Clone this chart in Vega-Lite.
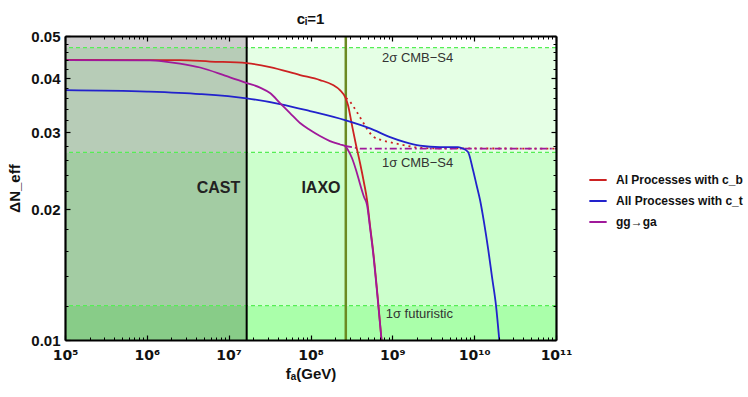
{
  "$schema": "https://vega.github.io/schema/vega-lite/v6.json",
  "autosize": "none",
  "width": 491,
  "height": 304,
  "padding": {"left": 65, "top": 36, "right": 192, "bottom": 57},
  "background": "white",
  "config": {
    "view": {"stroke": null},
    "font": "Liberation Sans"
  },
  "title": {"text": "cᵢ=1", "fontSize": 15, "fontWeight": "bold", "font": "Liberation Sans", "offset": 2, "color": "#111"},
  "datasets": {
    "bands": [
      {"band": "b1", "x1": 1e5, "x2": 1e11, "y1": 0.01, "y2": 0.012},
      {"band": "b2", "x1": 1e5, "x2": 1e11, "y1": 0.012, "y2": 0.027},
      {"band": "b3", "x1": 1e5, "x2": 1e11, "y1": 0.027, "y2": 0.047}
    ],
    "gray": [{"x1": 1e5, "x2": 1.66e7, "y1": 0.01, "y2": 0.05}],
    "hlines": [{"y": 0.047}, {"y": 0.027}, {"y": 0.012}],
    "cast": [{"x": 1.66e7}],
    "iaxo": [{"x": 2.7e8}],
    "curves": [
      {"series": "Al Processes with c_b", "x": 1e5, "y": 0.04404},
      {"series": "Al Processes with c_b", "x": 1.0e6, "y": 0.0440},
      {"series": "Al Processes with c_b", "x": 2.54e6, "y": 0.0440},
      {"series": "Al Processes with c_b", "x": 5.92e6, "y": 0.04368},
      {"series": "Al Processes with c_b", "x": 1.663e7, "y": 0.0433},
      {"series": "Al Processes with c_b", "x": 3.2e7, "y": 0.04243},
      {"series": "Al Processes with c_b", "x": 7.45e7, "y": 0.04067},
      {"series": "Al Processes with c_b", "x": 1.306e8, "y": 0.0396},
      {"series": "Al Processes with c_b", "x": 1.884e8, "y": 0.03857},
      {"series": "Al Processes with c_b", "x": 2.29e8, "y": 0.03756},
      {"series": "Al Processes with c_b", "x": 2.69e8, "y": 0.0360},
      {"series": "Al Processes with c_b", "x": 2.87e8, "y": 0.03469},
      {"series": "Al Processes with c_b", "x": 3.21e8, "y": 0.03121},
      {"series": "Al Processes with c_b", "x": 3.6e8, "y": 0.02808},
      {"series": "Al Processes with c_b", "x": 4.03e8, "y": 0.02552},
      {"series": "Al Processes with c_b", "x": 4.51e8, "y": 0.02296},
      {"series": "Al Processes with c_b", "x": 4.91e8, "y": 0.02098},
      {"series": "Al Processes with c_b", "x": 5.33e8, "y": 0.01838},
      {"series": "Al Processes with c_b", "x": 5.81e8, "y": 0.0161},
      {"series": "Al Processes with c_b", "x": 6.59e8, "y": 0.01269},
      {"series": "Al Processes with c_b", "x": 7.38e8, "y": 0.01},
      {"series": "All Processes with c_t", "x": 1e5, "y": 0.03755},
      {"series": "All Processes with c_t", "x": 1.005e6, "y": 0.03726},
      {"series": "All Processes with c_t", "x": 4.47e6, "y": 0.03677},
      {"series": "All Processes with c_t", "x": 1.66e7, "y": 0.03594},
      {"series": "All Processes with c_t", "x": 4.24e7, "y": 0.03488},
      {"series": "All Processes with c_t", "x": 9.86e7, "y": 0.03361},
      {"series": "All Processes with c_t", "x": 2.64e8, "y": 0.03203},
      {"series": "All Processes with c_t", "x": 5.33e8, "y": 0.03066},
      {"series": "All Processes with c_t", "x": 9.38e8, "y": 0.02928},
      {"series": "All Processes with c_t", "x": 1.429e9, "y": 0.02851},
      {"series": "All Processes with c_t", "x": 2.178e9, "y": 0.02799},
      {"series": "All Processes with c_t", "x": 3.83e9, "y": 0.02777},
      {"series": "All Processes with c_t", "x": 6.35e9, "y": 0.02777},
      {"series": "All Processes with c_t", "x": 7.31e9, "y": 0.02755},
      {"series": "All Processes with c_t", "x": 8.41e9, "y": 0.02705},
      {"series": "All Processes with c_t", "x": 9.68e9, "y": 0.0246},
      {"series": "All Processes with c_t", "x": 1.069e10, "y": 0.02272},
      {"series": "All Processes with c_t", "x": 1.18e10, "y": 0.02098},
      {"series": "All Processes with c_t", "x": 1.318e10, "y": 0.01867},
      {"series": "All Processes with c_t", "x": 1.489e10, "y": 0.0161},
      {"series": "All Processes with c_t", "x": 1.652e10, "y": 0.01396},
      {"series": "All Processes with c_t", "x": 1.849e10, "y": 0.012},
      {"series": "All Processes with c_t", "x": 2.028e10, "y": 0.01},
      {"series": "gg→ga", "x": 1e5, "y": 0.0440},
      {"series": "gg→ga", "x": 1.094e6, "y": 0.04395},
      {"series": "gg→ga", "x": 1.667e6, "y": 0.04368},
      {"series": "gg→ga", "x": 2.54e6, "y": 0.04322},
      {"series": "gg→ga", "x": 4.47e6, "y": 0.04232},
      {"series": "gg→ga", "x": 9.02e6, "y": 0.04056},
      {"series": "gg→ga", "x": 1.663e7, "y": 0.03898},
      {"series": "gg→ga", "x": 2.42e7, "y": 0.03805},
      {"series": "gg→ga", "x": 3.2e7, "y": 0.03696},
      {"series": "gg→ga", "x": 4.24e7, "y": 0.03506},
      {"series": "gg→ga", "x": 5.62e7, "y": 0.03325},
      {"series": "gg→ga", "x": 7.45e7, "y": 0.03154},
      {"series": "gg→ga", "x": 9.87e7, "y": 0.03039},
      {"series": "gg→ga", "x": 1.306e8, "y": 0.02944},
      {"series": "gg→ga", "x": 1.73e8, "y": 0.02867},
      {"series": "gg→ga", "x": 2.3e8, "y": 0.02815},
      {"series": "gg→ga", "x": 2.64e8, "y": 0.02793},
      {"series": "gg→ga", "x": 2.87e8, "y": 0.02734},
      {"series": "gg→ga", "x": 3.21e8, "y": 0.02621},
      {"series": "gg→ga", "x": 3.6e8, "y": 0.0246},
      {"series": "gg→ga", "x": 4.03e8, "y": 0.02284},
      {"series": "gg→ga", "x": 4.51e8, "y": 0.02132},
      {"series": "gg→ga", "x": 4.91e8, "y": 0.02043},
      {"series": "gg→ga", "x": 5.33e8, "y": 0.01818},
      {"series": "gg→ga", "x": 5.81e8, "y": 0.01593},
      {"series": "gg→ga", "x": 6.59e8, "y": 0.01256},
      {"series": "gg→ga", "x": 7.38e8, "y": 0.01}
    ],
    "reddot": [
      {"x": 2.72e8, "y": 0.0360},
      {"x": 3.04e8, "y": 0.0353},
      {"x": 3.67e8, "y": 0.03348},
      {"x": 4.23e8, "y": 0.03203},
      {"x": 4.86e8, "y": 0.03066},
      {"x": 5.86e8, "y": 0.02934},
      {"x": 7.77e8, "y": 0.02874},
      {"x": 9.83e8, "y": 0.02844},
      {"x": 1.361e9, "y": 0.02807},
      {"x": 1.986e9, "y": 0.02773},
      {"x": 2.88e9, "y": 0.02759},
      {"x": 1e11, "y": 0.02755}
    ],
    "purpdash": [
      {"x": 2.64e8, "y": 0.02793},
      {"x": 4.03e8, "y": 0.02755},
      {"x": 1e11, "y": 0.02755}
    ],
    "bold_labels": [
      {"label": "CAST", "x": 7.52e6, "y": 0.0224},
      {"label": "IAXO", "x": 1.343e8, "y": 0.0224}
    ],
    "plain_labels": [
      {"label": "2σ CMB−S4", "x": 7.48e8, "y": 0.0445},
      {"label": "1σ CMB−S4", "x": 7.48e8, "y": 0.02552},
      {"label": "1σ futuristic", "x": 8.3e8, "y": 0.01146}
    ]
  },
  "resolve": {"axis": {"x": "independent", "y": "independent"}},
  "layer": [
    {
      "data": {"name": "bands"},
      "mark": {"type": "rect"},
      "encoding": {
        "x": {"field": "x1", "type": "quantitative", "scale": {"type": "log", "domain": [1e5, 1e11], "nice": false},
          "axis": {"orient": "bottom", "zindex": 2, "values": [1e5, 1e6, 1e7, 1e8, 1e9, 1e10, 1e11],
            "labelExpr": "datum.value==100000?'10⁵':datum.value==1000000?'10⁶':datum.value==10000000?'10⁷':datum.value==100000000?'10⁸':datum.value==1000000000?'10⁹':datum.value==10000000000?'10¹⁰':'10¹¹'",
            "tickSize": -5, "tickColor": "black", "tickWidth": 1.2, "labelPadding": 13, "labelFont": "DejaVu Sans", "labelFontSize": 14, "labelFontWeight": "bold", "labelColor": "#111",
            "domain": true, "domainColor": "black", "domainWidth": 2.2, "grid": false, "labelFlush": false, "labelOverlap": false,
            "title": "fₐ(GeV)", "titleFont": "Liberation Sans", "titleFontSize": 15, "titleFontWeight": "bold", "titleColor": "#111", "titlePadding": 4}},
        "x2": {"field": "x2"},
        "y": {"field": "y1", "type": "quantitative", "scale": {"type": "log", "domain": [0.01, 0.05], "nice": false},
          "axis": {"orient": "left", "zindex": 2, "values": [0.01, 0.02, 0.03, 0.04, 0.05], "format": ".2f",
            "tickSize": -5, "tickColor": "black", "tickWidth": 1.2, "labelPadding": 10, "labelFont": "Liberation Sans", "labelFontSize": 15, "labelFontWeight": "bold", "labelColor": "#111",
            "domain": true, "domainColor": "black", "domainWidth": 2.2, "grid": false, "labelFlush": false, "labelOverlap": false,
            "title": "ΔN_eff", "titleFont": "Liberation Sans", "titleFontSize": 15, "titleFontWeight": "bold", "titleColor": "#111", "titlePadding": 8}},
        "y2": {"field": "y2"},
        "fill": {"field": "band", "type": "nominal", "scale": {"domain": ["b1", "b2", "b3"], "range": ["#aaffaa", "#ccffcc", "#e5ffe5"]}, "legend": null}
      }
    },
    {
      "data": {"name": "gray"},
      "mark": {"type": "rect", "fill": "black", "fillOpacity": 0.2},
      "encoding": {
        "x": {"field": "x1", "type": "quantitative", "scale": {"type": "log", "domain": [1e5, 1e11], "nice": false},
          "axis": {"orient": "bottom", "zindex": 2, "values": [2e5, 3e5, 4e5, 5e5, 6e5, 7e5, 8e5, 9e5, 2e6, 3e6, 4e6, 5e6, 6e6, 7e6, 8e6, 9e6, 2e7, 3e7, 4e7, 5e7, 6e7, 7e7, 8e7, 9e7, 2e8, 3e8, 4e8, 5e8, 6e8, 7e8, 8e8, 9e8, 2e9, 3e9, 4e9, 5e9, 6e9, 7e9, 8e9, 9e9, 2e10, 3e10, 4e10, 5e10, 6e10, 7e10, 8e10, 9e10],
            "tickSize": -3, "tickColor": "black", "tickWidth": 1, "labels": false, "domain": false, "grid": false, "title": null}},
        "x2": {"field": "x2"},
        "y": {"field": "y1", "type": "quantitative", "scale": {"type": "log", "domain": [0.01, 0.05], "nice": false},
          "axis": {"orient": "left", "zindex": 2, "values": [0.012, 0.014, 0.016, 0.018, 0.022, 0.024, 0.026, 0.028, 0.032, 0.034, 0.036, 0.038, 0.042, 0.044, 0.046, 0.048],
            "tickSize": -3, "tickColor": "black", "tickWidth": 1, "labels": false, "domain": false, "grid": false, "title": null}},
        "y2": {"field": "y2"}
      }
    },
    {
      "data": {"name": "hlines"},
      "mark": {"type": "rule", "stroke": "#55ee55", "strokeWidth": 1.3, "strokeDash": [4, 3]},
      "encoding": {
        "y": {"field": "y", "type": "quantitative", "scale": {"type": "log", "domain": [0.01, 0.05], "nice": false}, "axis": null}
      }
    },
    {
      "data": {"name": "cast"},
      "mark": {"type": "rule", "stroke": "black", "strokeWidth": 2},
      "encoding": {
        "x": {"field": "x", "type": "quantitative", "scale": {"type": "log", "domain": [1e5, 1e11], "nice": false}, "axis": null}
      }
    },
    {
      "data": {"name": "iaxo"},
      "mark": {"type": "rule", "stroke": "#6b8a22", "strokeWidth": 2.5},
      "encoding": {
        "x": {"field": "x", "type": "quantitative", "scale": {"type": "log", "domain": [1e5, 1e11], "nice": false}, "axis": null}
      }
    },
    {
      "data": {"name": "reddot"},
      "mark": {"type": "line", "stroke": "#cc2222", "strokeWidth": 1.8, "strokeDash": [2, 4], "interpolate": "monotone"},
      "encoding": {
        "x": {"field": "x", "type": "quantitative", "scale": {"type": "log", "domain": [1e5, 1e11], "nice": false},
          "axis": {"orient": "top", "zindex": 2, "values": [2e5, 3e5, 4e5, 5e5, 6e5, 7e5, 8e5, 9e5, 2e6, 3e6, 4e6, 5e6, 6e6, 7e6, 8e6, 9e6, 2e7, 3e7, 4e7, 5e7, 6e7, 7e7, 8e7, 9e7, 2e8, 3e8, 4e8, 5e8, 6e8, 7e8, 8e8, 9e8, 2e9, 3e9, 4e9, 5e9, 6e9, 7e9, 8e9, 9e9, 2e10, 3e10, 4e10, 5e10, 6e10, 7e10, 8e10, 9e10],
            "tickSize": -3, "tickColor": "black", "tickWidth": 1, "labels": false, "domain": false, "grid": false, "title": null}},
        "y": {"field": "y", "type": "quantitative", "scale": {"type": "log", "domain": [0.01, 0.05], "nice": false},
          "axis": {"orient": "right", "zindex": 2, "values": [0.012, 0.014, 0.016, 0.018, 0.022, 0.024, 0.026, 0.028, 0.032, 0.034, 0.036, 0.038, 0.042, 0.044, 0.046, 0.048],
            "tickSize": -3, "tickColor": "black", "tickWidth": 1, "labels": false, "domain": false, "grid": false, "title": null}}
      }
    },
    {
      "data": {"name": "purpdash"},
      "mark": {"type": "line", "stroke": "#a0199a", "strokeWidth": 1.8, "strokeDash": [7, 3, 2, 3]},
      "encoding": {
        "x": {"field": "x", "type": "quantitative", "scale": {"type": "log", "domain": [1e5, 1e11], "nice": false}, "axis": null},
        "y": {"field": "y", "type": "quantitative", "scale": {"type": "log", "domain": [0.01, 0.05], "nice": false}, "axis": null}
      }
    },
    {
      "data": {"name": "curves"},
      "mark": {"type": "line", "strokeWidth": 1.8, "interpolate": "monotone"},
      "encoding": {
        "x": {"field": "x", "type": "quantitative", "scale": {"type": "log", "domain": [1e5, 1e11], "nice": false},
          "axis": {"orient": "top", "zindex": 2, "values": [1e5, 1e6, 1e7, 1e8, 1e9, 1e10, 1e11],
            "tickSize": -5, "tickColor": "black", "tickWidth": 1.2, "labels": false, "domain": true, "domainColor": "black", "domainWidth": 2.2, "grid": false, "title": null}},
        "y": {"field": "y", "type": "quantitative", "scale": {"type": "log", "domain": [0.01, 0.05], "nice": false},
          "axis": {"orient": "right", "zindex": 2, "values": [0.01, 0.02, 0.03, 0.04, 0.05],
            "tickSize": -5, "tickColor": "black", "tickWidth": 1.2, "labels": false, "domain": true, "domainColor": "black", "domainWidth": 2.2, "grid": false, "title": null}},
        "stroke": {"field": "series", "type": "nominal",
          "scale": {"domain": ["Al Processes with c_b", "All Processes with c_t", "gg→ga"], "range": ["#cc2222", "#2222cc", "#a0199a"]},
          "legend": {"orient": "none", "legendX": 523, "legendY": 134, "title": null, "symbolType": "stroke", "symbolStrokeWidth": 2, "symbolSize": 300,
            "labelFont": "Liberation Sans", "labelFontSize": 12, "labelFontWeight": "bold", "labelColor": "#111", "labelLimit": 300, "rowPadding": 5, "labelOffset": 8}}
      }
    },
    {
      "data": {"name": "bold_labels"},
      "mark": {"type": "text", "font": "Liberation Sans", "fontSize": 16, "fontWeight": "bold", "color": "#222", "align": "center", "baseline": "middle"},
      "encoding": {
        "x": {"field": "x", "type": "quantitative", "scale": {"type": "log", "domain": [1e5, 1e11], "nice": false}, "axis": null},
        "y": {"field": "y", "type": "quantitative", "scale": {"type": "log", "domain": [0.01, 0.05], "nice": false}, "axis": null},
        "text": {"field": "label"}
      }
    },
    {
      "data": {"name": "plain_labels"},
      "mark": {"type": "text", "font": "Liberation Sans", "fontSize": 13, "color": "#333", "align": "left", "baseline": "middle"},
      "encoding": {
        "x": {"field": "x", "type": "quantitative", "scale": {"type": "log", "domain": [1e5, 1e11], "nice": false}, "axis": null},
        "y": {"field": "y", "type": "quantitative", "scale": {"type": "log", "domain": [0.01, 0.05], "nice": false}, "axis": null},
        "text": {"field": "label"}
      }
    }
  ]
}
